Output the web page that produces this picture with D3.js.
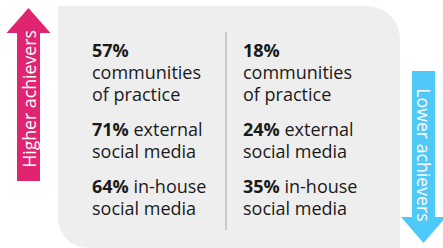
<!DOCTYPE html>
<meta charset="utf-8">
<style>
body { margin: 0; background: #fff; }
text { font-family: "Open Sans", sans-serif; }
</style>
<svg width="443" height="248"></svg>
<script src="https://d3js.org/d3.v7.min.js"></script>
<script>

// data
var groups = ["Higher achievers", "Lower achievers"];
var higherValues = [57, 71, 64];
var lowerValues = [18, 24, 35];
// text after the percentage, per line ("" = percentage stands alone)
var categoryLines = [
  ["", "communities", "of practice"],
  [" external", "social media"],
  [" in-house", "social media"]
];

var svg = d3.select("svg");

// columns of the panel
var xCol = d3.scaleBand().domain(groups).range([92, 394]).paddingInner(0);
var lineH = 22, groupGap = 13;

// grey panel: square top-left / bottom-right, rounded top-right / bottom-left
var px0 = 58, py0 = 6, px1 = 400, py1 = 248, rTR = 33, rBL = 30;
svg.append("path")
  .attr("d", "M" + px0 + "," + py0 +
    " L" + (px1 - rTR) + "," + py0 +
    " A" + rTR + "," + rTR + " 0 0 1 " + px1 + "," + (py0 + rTR) +
    " L" + px1 + "," + py1 +
    " L" + (px0 + rBL) + "," + py1 +
    " A" + rBL + "," + rBL + " 0 0 1 " + px0 + "," + (py1 - rBL) + " Z")
  .attr("fill", "#eeeeee");

// divider
svg.append("line")
  .attr("x1", 226).attr("x2", 226)
  .attr("y1", 32).attr("y2", 230)
  .attr("stroke", "#b9bccb").attr("stroke-width", 1.5);

// arrows
function arrow(cx, top, bottom, shaftW, headW, headH, up, color) {
  var s = shaftW / 2, h = headW / 2, d;
  if (up) {
    d = "M" + cx + "," + top + " L" + (cx + h) + "," + (top + headH) +
      " L" + (cx + s) + "," + (top + headH) + " L" + (cx + s) + "," + bottom +
      " L" + (cx - s) + "," + bottom + " L" + (cx - s) + "," + (top + headH) +
      " L" + (cx - h) + "," + (top + headH) + " Z";
  } else {
    d = "M" + cx + "," + bottom + " L" + (cx + h) + "," + (bottom - headH) +
      " L" + (cx + s) + "," + (bottom - headH) + " L" + (cx + s) + "," + top +
      " L" + (cx - s) + "," + top + " L" + (cx - s) + "," + (bottom - headH) +
      " L" + (cx - h) + "," + (bottom - headH) + " Z";
  }
  svg.append("path").attr("d", d).attr("fill", color);
}
arrow(28.5, 8, 181, 23, 44, 25, true, "#e0246f");
arrow(423.5, 71, 243, 23, 45, 26, false, "#4fc9f7");

svg.append("text")
  .attr("transform", "translate(35.5,99) rotate(-90)")
  .attr("text-anchor", "middle")
  .attr("fill", "#fff").attr("font-size", 17.7)
  .text(groups[0]);

svg.append("text")
  .attr("transform", "translate(417,155) rotate(90)")
  .attr("text-anchor", "middle")
  .attr("fill", "#fff").attr("font-size", 17.7)
  .text(groups[1]);

// text blocks
function block(values, group) {
  var x = xCol(group);
  var y = 57;
  values.forEach(function(v, i) {
    var lines = categoryLines[i];
    lines.forEach(function(line, j) {
      var t = svg.append("text")
        .attr("x", x).attr("y", y)
        .attr("fill", "#1a1a1a").attr("font-size", 18);
      if (j === 0) {
        t.append("tspan").attr("font-weight", "bold").text(v + "%");
        if (line) t.append("tspan").text(line);
      } else {
        t.text(line);
      }
      y += lineH;
    });
    y += groupGap;
  });
}
block(higherValues, groups[0]);
block(lowerValues, groups[1]);

</script>
